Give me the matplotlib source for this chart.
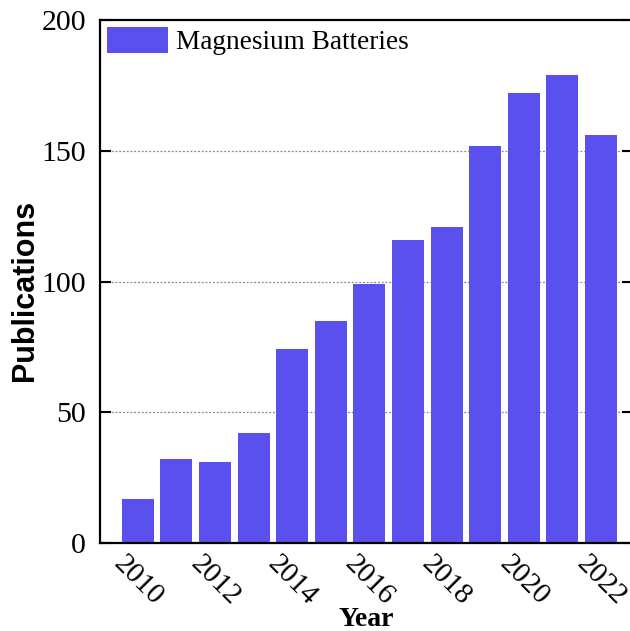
import numpy as np
import matplotlib.pyplot as plt

# publications per year
years = [2010, 2011, 2012, 2013, 2014, 2015, 2016, 2017, 2018, 2019, 2020, 2021, 2022]
pubs = [17, 32, 31, 42, 74, 85, 99, 116, 121, 152, 172, 179, 156]
xticks = [2010, 2012, 2014, 2016, 2018, 2020, 2022]
yticks = [0, 50, 100, 150, 200]

bar_color = "#5A50EE"
serif = ["Liberation Serif", "DejaVu Serif"]

fig = plt.figure(figsize=(6.30, 6.31), dpi=100)
ax = fig.add_axes([100 / 630, 88 / 631, 533 / 630, 523 / 631])

ax.bar(years, pubs, width=0.83, color=bar_color, label="Magnesium Batteries", zorder=2)

ax.set_xlim(2009.02, 2022.83)
ax.set_ylim(0, 200)
ax.set_yticks(yticks)
ax.set_xticks(xticks)
ax.set_xticklabels([str(x) for x in xticks], rotation=-45, ha="center", va="top",
                   family=serif, fontsize=21)
ax.set_yticklabels([str(y) for y in yticks], family=serif, fontsize=21.5)

ax.tick_params(axis="y", direction="in", length=8, width=1.5, pad=10, right=True)
ax.tick_params(axis="x", length=0, pad=6)

for gy in [50, 100, 150]:
    ax.axhline(gy, color="#888888", linestyle=(0, (1.5, 1.5)), linewidth=0.9, zorder=1)

for s in ax.spines.values():
    s.set_linewidth(1.6)

ax.set_ylabel("Publications", family=["Liberation Sans", "DejaVu Sans"], fontweight="bold",
              fontsize=22)
ax.yaxis.set_label_coords(-0.112, 0.482)
ax.set_xlabel("Year", family=serif, fontweight="bold", fontsize=20, labelpad=-3)

ax.legend(loc="upper left", frameon=False, prop={"family": serif, "size": 19.6},
          handlelength=2.25, handleheight=1.1, borderaxespad=0.15, borderpad=0.1,
          handletextpad=0.3)

plt.savefig("out.png", dpi=100)
